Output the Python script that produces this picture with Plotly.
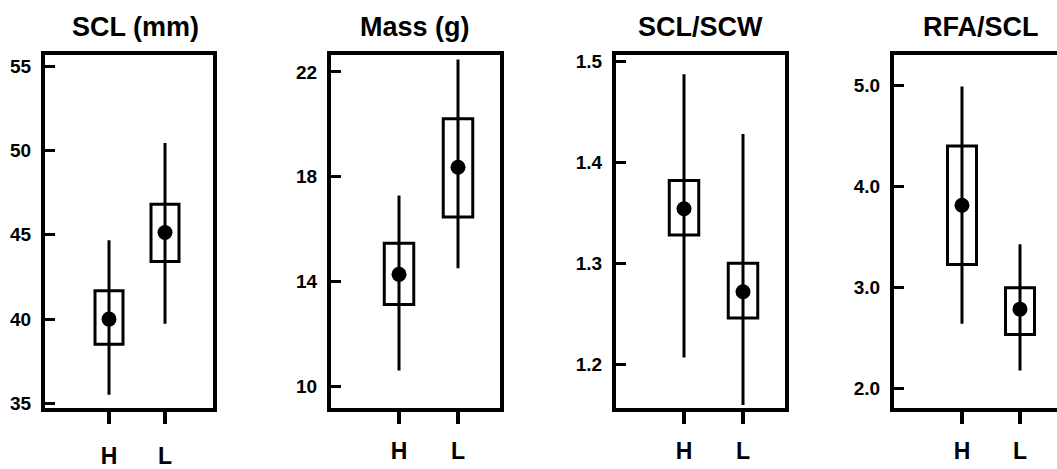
import plotly.graph_objects as go

W, H = 1057, 469

groups = ["H", "L"]
titles = ["SCL (mm)", "Mass (g)", "SCL/SCW", "RFA/SCL"]

scl_mean = [40.0, 45.14]
scl_q1 = [38.51, 43.41]
scl_q3 = [41.68, 46.81]
scl_min = [35.51, 39.72]
scl_max = [44.68, 50.44]

mass_mean = [14.27, 18.36]
mass_q1 = [13.12, 16.46]
mass_q3 = [15.46, 20.21]
mass_min = [10.60, 14.50]
mass_max = [17.28, 22.47]

sclscw_mean = [1.354, 1.272]
sclscw_q1 = [1.328, 1.246]
sclscw_q3 = [1.382, 1.300]
sclscw_min = [1.207, 1.160]
sclscw_max = [1.487, 1.428]

rfa_mean = [3.815, 2.787]
rfa_q1 = [3.228, 2.536]
rfa_q3 = [4.401, 2.998]
rfa_min = [2.642, 2.180]
rfa_max = [4.988, 3.430]

scl_ticks = [35, 40, 45, 50, 55]
mass_ticks = [10, 14, 18, 22]
sclscw_ticks = [1.2, 1.3, 1.4, 1.5]
rfa_ticks = [2.0, 3.0, 4.0, 5.0]

panels = [
    dict(mean=scl_mean, q1=scl_q1, q3=scl_q3, lo=scl_min, hi=scl_max,
         ticks=scl_ticks, fmt="d", yr=[34.70, 55.69], px=(45, 213), xr=[-1.143, 1.857],
         mirror=True, xstand=12),
    dict(mean=mass_mean, q1=mass_q1, q3=mass_q3, lo=mass_min, hi=mass_max,
         ticks=mass_ticks, fmt="d", yr=[9.15, 22.66], px=(331, 500), xr=[-1.153, 1.712],
         mirror=True, xstand=7),
    dict(mean=sclscw_mean, q1=sclscw_q1, q3=sclscw_q3, lo=sclscw_min, hi=sclscw_max,
         ticks=sclscw_ticks, fmt=".1f", yr=[1.1565, 1.5065], px=(616, 785), xr=[-1.153, 1.712],
         mirror=True, xstand=7),
    dict(mean=rfa_mean, q1=rfa_q1, q3=rfa_q3, lo=rfa_min, hi=rfa_max,
         ticks=rfa_ticks, fmt=".1f", yr=[1.805, 5.305], px=(894, 1057), xr=[-1.172, 1.638],
         mirror=False, xstand=7),
]
title_x = [135, 415, 700, 981]

FONT = "Liberation Sans, Arial, sans-serif"
xpos = [0, 1]

fig = go.Figure()
layout = dict(width=W, height=H, margin=dict(l=0, r=0, t=0, b=0),
              paper_bgcolor="white", plot_bgcolor="white", showlegend=False)
ydom = [(469 - 416) / 469, (469 - 52) / 469]

for i, p in enumerate(panels):
    n = "" if i == 0 else str(i + 1)
    xa, ya = "x" + n, "y" + n
    fig.add_trace(go.Bar(
        x=xpos, y=[b - a for a, b in zip(p["q1"], p["q3"])], base=p["q1"], width=0.5,
        marker=dict(color="rgba(255,255,255,0)", line=dict(color="black", width=3)),
        xaxis=xa, yaxis=ya, hoverinfo="skip"))
    fig.add_trace(go.Scatter(
        x=xpos, y=p["mean"], mode="markers",
        marker=dict(color="black", size=15),
        error_y=dict(type="data", symmetric=False,
                     array=[h - m for h, m in zip(p["hi"], p["mean"])],
                     arrayminus=[m - l for l, m in zip(p["lo"], p["mean"])],
                     color="black", thickness=3, width=0),
        xaxis=xa, yaxis=ya))
    layout["xaxis" + n] = dict(
        domain=[p["px"][0] / W, p["px"][1] / W], range=p["xr"], anchor=ya,
        tickmode="array", tickvals=xpos, ticktext=groups,
        ticks="outside", ticklen=12, tickwidth=4, tickcolor="black",
        showline=True, linewidth=4, linecolor="black", mirror=True,
        showgrid=False, zeroline=False, fixedrange=True,
        ticklabelstandoff=p["xstand"],
        tickfont=dict(family=FONT, size=23, color="black", weight="bold"))
    ticktext = [format(t, p["fmt"]) for t in p["ticks"]]
    layout["yaxis" + n] = dict(
        domain=ydom, range=p["yr"], anchor=xa,
        tickmode="array", tickvals=p["ticks"], ticktext=ticktext,
        ticks="inside", ticklen=10, tickwidth=3, tickcolor="black",
        showline=True, linewidth=4, linecolor="black", mirror=p["mirror"],
        showgrid=False, zeroline=False, fixedrange=True,
        ticklabelstandoff=6,
        tickfont=dict(family=FONT, size=19, color="black", weight="bold"))

layout["annotations"] = [
    dict(text=t, x=tx / W, y=(469 - 24) / 469, xref="paper", yref="paper",
         xanchor="center", yanchor="middle", showarrow=False,
         font=dict(family=FONT, size=27, color="black", weight="bold"))
    for t, tx in zip(titles, title_x)
]
fig.update_layout(**layout)
fig.write_html("out.html",
               config={"displayModeBar": False, "staticPlot": True},
               post_script="document.body.style.margin='0px';document.body.style.overflow='hidden';")
